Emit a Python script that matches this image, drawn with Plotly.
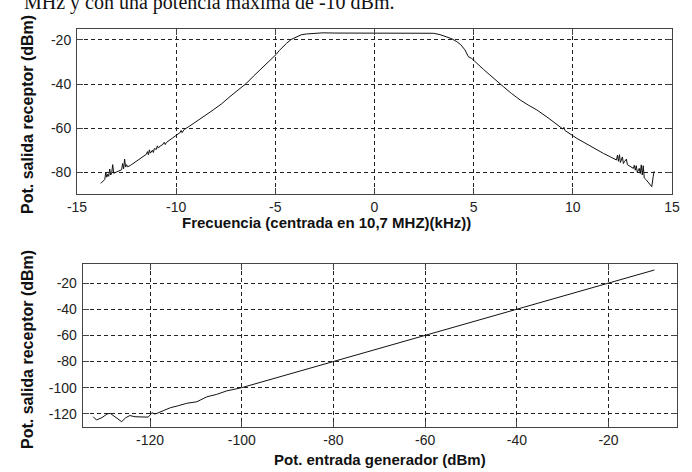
import plotly.graph_objects as go

# ---- Top panel: receiver output vs frequency ----
freq_khz = [-13.8, -13.7, -13.6, -13.55, -13.5, -13.45, -13.4, -13.35, -13.3, -13.25, -13.2, -13.15,
            -13.05, -12.95, -12.85, -12.75, -12.7, -12.65, -12.6, -12.55, -12.5, -12.45, -12.3, -12.1,
            -11.9, -11.7, -11.5, -11.45, -11.4, -11.35, -11.3, -11.2, -11.15, -11.1, -11.0, -10.95,
            -10.9, -10.8, -10.7, -10.6, -10.55, -10.5, -10.4, -10.3, -10.2, -10.1, -10.0, -9.9, -9.8,
            -9.75, -9.7, -9.6, -9.4, -9.14, -8.8, -8.5, -8.13, -7.7, -7.29, -6.9, -6.45, -6.1, -5.77,
            -5.4, -5.1, -4.95, -4.8, -4.6, -4.43, -4.2, -3.92, -3.7, -3.42, -3.1, -2.75, -2.6, -2.0,
            -1.0, 0.0, 1.0, 2.0, 2.97,
            3.3, 3.64, 3.9, 4.15, 4.35, 4.56, 4.65, 4.73, 4.9, 5.15, 5.5, 5.82, 6.15, 6.5, 6.9, 7.34,
            7.75, 8.18, 8.8, 9.35, 9.5, 9.55, 9.6, 10.2, 10.9, 11.54, 11.9, 12.2, 12.25, 12.3, 12.35,
            12.4, 12.5, 12.55, 12.6, 12.7, 12.75, 12.85, 12.95, 13.05, 13.1, 13.15, 13.2, 13.25, 13.35,
            13.4, 13.45, 13.5, 13.55, 13.6, 13.7, 13.85, 13.98, 14.05, 14.1]
pot_rx_freq = [-85.0, -84.0, -83.2, -80.0, -82.2, -80.8, -81.8, -78.5, -81.2, -80.2, -76.5, -80.4,
               -80.0, -79.6, -79.2, -78.8, -76.0, -78.4, -74.0, -77.6, -76.5, -77.5, -76.8, -75.6,
               -74.4, -73.0, -71.8, -70.6, -72.0, -69.8, -71.3, -70.0, -71.0, -69.2, -69.6, -68.0,
               -69.0, -68.0, -67.6, -66.4, -67.4, -66.5, -65.8, -65.0, -64.6, -63.6, -63.1, -62.6, -62.0,
               -61.0, -62.0, -60.6, -59.5, -57.8, -55.8, -54.0, -51.7, -48.9, -45.7, -42.7, -39.6, -36.4,
               -33.6, -30.5, -27.6, -26.5, -24.8, -22.8, -21.5, -19.8, -18.5, -17.7, -17.3, -17.1, -17.0,
               -16.8, -16.9, -16.9, -16.9, -16.9, -16.9, -17.0,
               -17.6, -18.5, -19.5, -20.8, -22.2, -24.5, -26.0, -27.6, -28.4, -30.6, -33.4, -35.9, -38.6,
               -41.2, -44.2, -47.2, -49.5, -51.7, -55.6, -59.3, -60.4, -59.6, -61.0, -64.6, -68.3, -71.4,
               -73.0, -74.4, -72.2, -75.0, -72.0, -75.5, -73.0, -76.0, -75.2, -74.0, -76.5, -77.0, -77.6,
               -78.2, -76.8, -79.0, -77.0, -80.0, -78.2, -80.5, -76.6, -81.2, -77.0, -82.5, -83.4, -84.8,
               -86.5, -82.0, -79.5]

# ---- Bottom panel: receiver output vs generator input ----
pot_gen = [-132.4, -131.7, -130.5, -129.4, -128.7, -127.5, -126.2, -125.3, -124.4, -123.3, -122.2,
           -121.3, -120.4, -120.0, -119.6, -119.0, -118.5, -117.0, -115.6, -114.0, -112.0, -109.8,
           -107.6, -105.5, -103.3, -100.0, -90.0, -80.0, -70.0, -60.0, -50.0, -40.0, -30.0, -20.0, -10.0]
pot_rx_gen = [-122.3, -124.8, -123.0, -120.2, -119.7, -122.5, -126.1, -123.0, -121.4, -122.3, -122.6,
              -122.4, -122.6, -121.0, -119.2, -120.2, -119.7, -117.5, -115.4, -114.0, -112.0, -110.8,
              -107.0, -105.2, -102.5, -100.0, -90.0, -80.0, -70.0, -60.0, -50.0, -40.0, -30.0, -20.0, -9.8]

top_xticks = [-15, -10, -5, 0, 5, 10, 15]
top_yticks = [-20, -40, -60, -80]
bot_xticks = [-120, -100, -80, -60, -40, -20]
bot_yticks = [-20, -40, -60, -80, -100, -120]

W, H = 692, 472
ML, MR, MT, MB = 40, 8, 22, 36
PW, PH = W - ML - MR, H - MT - MB

fig = go.Figure()
fig.add_trace(go.Scatter(x=freq_khz, y=pot_rx_freq, mode="lines",
                         line=dict(color="#111111", width=1), xaxis="x", yaxis="y", showlegend=False))
fig.add_trace(go.Scatter(x=pot_gen, y=pot_rx_gen, mode="lines",
                         line=dict(color="#111111", width=1), xaxis="x2", yaxis="y2", showlegend=False))

tickfont = dict(family="Liberation Sans, Arial, sans-serif", size=14, color="#222222")
common = dict(showline=True, linecolor="#444444", linewidth=1, mirror="allticks",
              ticks="inside", ticklen=6, tickcolor="#444444", tickwidth=1,
              showgrid=True, gridcolor="#222222", gridwidth=1, griddash="4px,3px",
              zeroline=False, tickfont=tickfont, automargin=False)


def lbl(vals):
    return [str(v) for v in vals]


def dx(a, b):
    return [(a - ML) / PW, (b - ML) / PW]


def dy(bottom, top):
    return [(H - MB - bottom) / PH, (H - MB - top) / PH]


def ax(x):
    return (x - ML) / PW


def ay(y):
    return (H - MB - y) / PH


fig.update_layout(
    width=W, height=H, margin=dict(l=ML, r=MR, t=MT, b=MB, autoexpand=False),
    paper_bgcolor="white", plot_bgcolor="white",
    xaxis=dict(domain=dx(77, 672), range=[-15, 15], tickvals=top_xticks, ticktext=lbl(top_xticks),
               anchor="y", **common),
    yaxis=dict(domain=dy(194, 29.3), range=[-89.8, -15.2], tickvals=top_yticks, ticktext=lbl(top_yticks),
               anchor="x", ticklabelstandoff=2, **common),
    xaxis2=dict(domain=dx(82.7, 677.3), range=[-134.7, -5.0], tickvals=bot_xticks, ticktext=lbl(bot_xticks),
                anchor="y2", **common),
    yaxis2=dict(domain=dy(427.3, 264), range=[-130.4, -5.2], tickvals=bot_yticks, ticktext=lbl(bot_yticks),
                anchor="x2", ticklabelstandoff=2, **common),
)

titlefont = dict(family="Liberation Sans, Arial, sans-serif", size=15, color="#111111", weight="bold")
ytitlefont = dict(family="Liberation Sans, Arial, sans-serif", size=16, color="#111111", weight="bold")
fig.add_annotation(text="Frecuencia (centrada en 10,7 MHZ)(kHz))", xref="paper", yref="paper",
                   x=ax(326), y=ay(222), xanchor="center", yanchor="middle", showarrow=False, font=titlefont)
fig.add_annotation(text="Pot. entrada generador (dBm)", xref="paper", yref="paper",
                   x=ax(380), y=ay(459), xanchor="center", yanchor="middle", showarrow=False, font=titlefont)
fig.add_annotation(text="Pot. salida receptor (dBm)", xref="paper", yref="paper",
                   x=ax(27), y=ay(115), xanchor="center", yanchor="middle", textangle=-90,
                   showarrow=False, font=ytitlefont)
fig.add_annotation(text="Pot. salida receptor (dBm)", xref="paper", yref="paper",
                   x=ax(27), y=ay(350), xanchor="center", yanchor="middle", textangle=-90,
                   showarrow=False, font=ytitlefont)
fig.add_annotation(text="MHz y con una potencia máxima de -10 dBm.", xref="paper", yref="paper",
                   x=ax(22), y=ay(16), xanchor="left", yanchor="bottom", showarrow=False,
                   font=dict(family="Liberation Serif, Times New Roman, serif", size=20, color="#111111"))

fig.write_html("out.html", config={"displayModeBar": False},
               post_script="document.body.style.margin='0';")
